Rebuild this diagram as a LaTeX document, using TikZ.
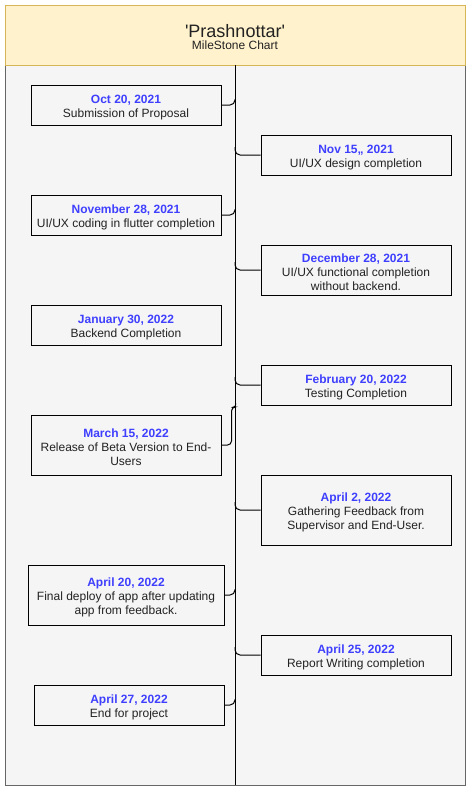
\documentclass[tikz,border=0pt]{standalone}
\usepackage{fontspec}
\setmainfont{Liberation Sans}
\definecolor{hdrfill}{HTML}{FFF2CC}
\definecolor{hdrline}{HTML}{D6B656}
\definecolor{bodyfill}{HTML}{F5F5F5}
\definecolor{bodyline}{HTML}{666666}
\definecolor{datec}{HTML}{3F3FFF}
\definecolor{txt}{HTML}{222222}
\newcommand{\msdate}[1]{\rule{0pt}{13pt}\textbf{\textcolor{datec}{#1}}}
\begin{document}
\begin{tikzpicture}[x=1pt,y=-1pt,
  msbox/.style={draw=black, line width=1pt, fill=bodyfill, align=center, inner sep=0pt,
    minimum width=190pt, minimum height=40pt, text=txt, font=\fontsize{12}{14}\selectfont},
  conn/.style={line width=1pt, rounded corners=5pt}]
\useasboundingbox (0,0) rectangle (471,792);
% frame
\node[draw=bodyline, fill=bodyfill, line width=1pt, minimum width=460pt, minimum height=720pt,
  inner sep=0pt, anchor=north west] (body) at (5,65) {};
\node[draw=hdrline, fill=hdrfill, line width=1pt, minimum width=460pt, minimum height=60pt,
  inner sep=0pt, anchor=north west] (hdr) at (5,5) {};
\node[align=center, text=txt, inner sep=0pt] (title) at (235,37.5)
  {{\fontsize{18}{20}\selectfont \textquotesingle Prashnottar\textquotesingle}\\[0pt]
   {\fontsize{12}{14}\selectfont MileStone Chart}};
% timeline
\coordinate (ltop) at (235,65);
\coordinate (lbot) at (235,785);
\draw[line width=1pt] (ltop) -- (lbot);
% milestones
\node[msbox] (b1) at (126,105) {\msdate{Oct 20, 2021}\\Submission of Proposal};
\node[msbox] (b2) at (356,155) {\msdate{Nov 15,, 2021}\\UI/UX design completion};
\node[msbox] (b3) at (126,215) {\msdate{November 28, 2021}\\UI/UX coding in flutter completion};
\node[msbox, minimum height=50pt] (b4) at (356,270) {\msdate{December 28, 2021}\\UI/UX functional completion\\without backend.};
\node[msbox] (b5) at (126,325) {\msdate{January 30, 2022}\\Backend Completion};
\node[msbox] (b6) at (356,385) {\msdate{February 20, 2022}\\Testing Completion};
\node[msbox, minimum height=60pt] (b7) at (126,445) {\msdate{March 15, 2022}\\Release of Beta Version to End-\\Users};
\node[msbox, minimum height=70pt] (b8) at (356,510) {\msdate{April 2, 2022}\\Gathering Feedback from\\Supervisor and End-User.};
\node[msbox, minimum width=196pt, minimum height=60pt] (b9) at (126,595) {\msdate{April 20, 2022}\\Final deploy of app after updating\\app from feedback.};
\node[msbox] (b10) at (356,655) {\msdate{April 25, 2022}\\Report Writing completion};
\node[msbox] (b11) at (129,705) {\msdate{April 27, 2022}\\End for project};
% connectors
\draw[conn] (b1.east) -- (b1.east -| ltop) -- ++(0,-6);
\draw[conn] (b2.west) -- (b2.west -| ltop) -- ++(0,-8);
\draw[conn] (b3.east) -- (b3.east -| ltop) -- ++(0,-6);
\draw[conn] (b4.west) -- (b4.west -| ltop) -- ++(0,-8);
\draw[conn] (b6.west) -- (b6.west -| ltop) -- ++(0,-8);
\draw[line width=1pt, rounded corners=4pt] (b7.east) -- ++(10,0) -- ++(0,-38) [rounded corners=2pt] -- ++(4,0) -- ++(0,-4);
\draw[conn] (b8.west) -- (b8.west -| ltop) -- ++(0,-8);
\draw[conn] (b9.east) -- (b9.east -| ltop) -- ++(0,-6);
\draw[conn] (b10.west) -- (b10.west -| ltop) -- ++(0,-8);
\draw[conn] (b11.east) -- (b11.east -| ltop) -- ++(0,-6);
\end{tikzpicture}
\end{document}
